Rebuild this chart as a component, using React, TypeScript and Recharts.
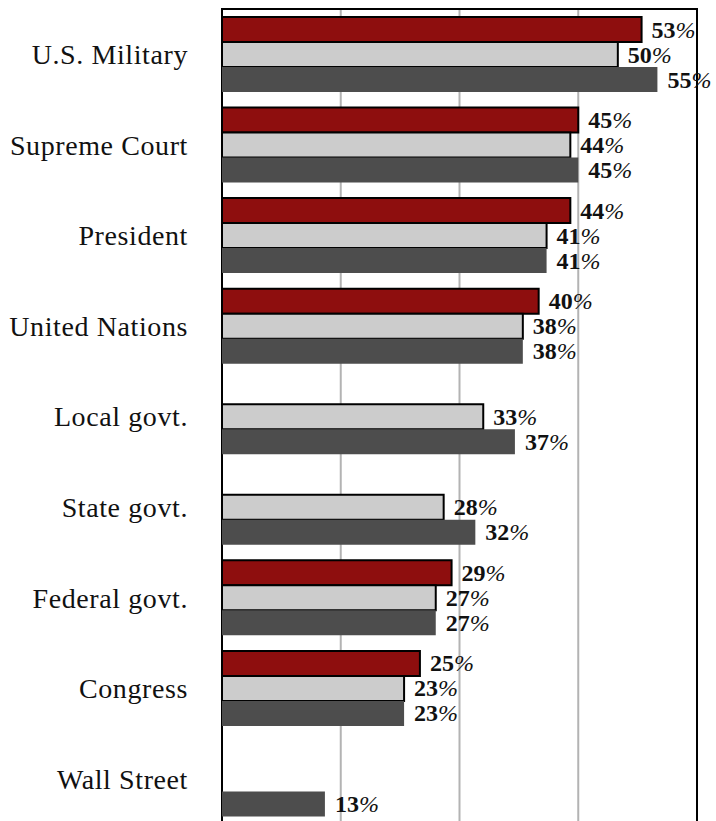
import { BarChart, Bar, XAxis, YAxis, CartesianGrid, LabelList, ReferenceArea } from 'recharts';

const categories = [
  'U.S. Military',
  'Supreme Court',
  'President',
  'United Nations',
  'Local govt.',
  'State govt.',
  'Federal govt.',
  'Congress',
  'Wall Street',
];
const seriesRed: (number | null)[] = [53, 45, 44, 40, null, null, 29, 25, null];
const seriesLight: (number | null)[] = [50, 44, 41, 38, 33, 28, 27, 23, null];
const seriesDark: (number | null)[] = [55, 45, 41, 38, 37, 32, 27, 23, 13];
const xTicks = [0, 15, 30, 45, 60];

const data = categories.map((name, i) => ({
  name,
  red: seriesRed[i],
  light: seriesLight[i],
  dark: seriesDark[i],
}));

const FONT = '"Liberation Serif", "DejaVu Serif", serif';

const ValueLabel = (props: any) => {
  const { x, y, width, height, value } = props;
  if (value == null) return null;
  return (
    <text
      x={x + width + 10}
      y={y + height / 2}
      dominantBaseline="central"
      fontFamily={FONT}
      fontSize={24}
      fontWeight={700}
      fill="#111"
    >
      {value}
      <tspan fontStyle="italic" fontWeight={400}>%</tspan>
    </text>
  );
};

export default function App() {
  return (
    <div style={{ position: 'absolute', left: 0, top: 0 }}>
      <BarChart
        width={716}
        height={830}
        data={data}
        layout="vertical"
        margin={{ top: 9, right: 19, bottom: 6, left: 0 }}
        barCategoryGap={8}
        barGap={0}
        style={{ overflow: 'visible' }}
      >
        <CartesianGrid horizontal={false} stroke="#b3b3b3" strokeWidth={2} />
        <XAxis type="number" domain={[0, 60]} ticks={xTicks} hide />
        <YAxis
          type="category"
          dataKey="name"
          width={222}
          tickLine={false}
          axisLine={false}
          tickSize={0}
          tickMargin={34}
          tick={{ fill: '#111', fontSize: 28, fontFamily: FONT, letterSpacing: 0.6 }}
        />
        <Bar dataKey="red" name="Red" fill="#8e0e0e" stroke="#000" strokeWidth={2} isAnimationActive={false}>
          <LabelList dataKey="red" content={<ValueLabel />} />
        </Bar>
        <Bar dataKey="light" name="Light" fill="#cccccc" stroke="#000" strokeWidth={2} isAnimationActive={false}>
          <LabelList dataKey="light" content={<ValueLabel />} />
        </Bar>
        <Bar dataKey="dark" name="Dark" fill="#4d4d4d" isAnimationActive={false}>
          <LabelList dataKey="dark" content={<ValueLabel />} />
        </Bar>
        <ReferenceArea x1={0} x2={60} fill="none" fillOpacity={0} stroke="#000" strokeWidth={2} ifOverflow="visible" />
      </BarChart>
    </div>
  );
}
